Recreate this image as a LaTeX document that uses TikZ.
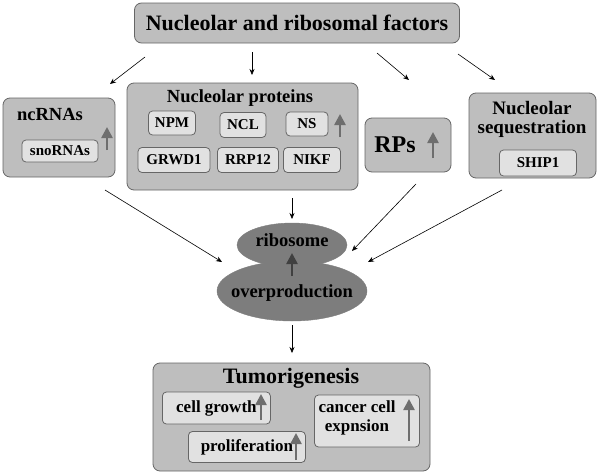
\documentclass[tikz,border=0pt]{standalone}
\usepackage{fontspec}
\setmainfont{Liberation Serif}
\usetikzlibrary{positioning,arrows.meta}
\definecolor{boxgray}{RGB}{190,190,190}
\definecolor{innergray}{RGB}{225,225,225}
\definecolor{ovalgray}{RGB}{125,125,125}
\definecolor{upgray}{RGB}{110,110,110}
\tikzset{
  outer/.style={draw=black!60,fill=boxgray,rounded corners=7pt,line width=0.8pt},
  inner/.style={draw=black!60,fill=innergray,rounded corners=4pt,line width=0.8pt,font=\bfseries\fontsize{15}{16}\selectfont,inner sep=0pt},
  lbl/.style={font=\bfseries\fontsize{18.5}{20}\selectfont,align=center},
  flow/.style={-{Stealth[length=6pt,width=5pt]},line width=0.6pt},
  up/.style={-{Triangle[length=11pt,width=11pt]},line width=2.5pt,draw=upgray}
}
\begin{document}
\begin{tikzpicture}[x=1pt,y=-1pt]
\useasboundingbox (0,0) rectangle (600,474);

%Top box
\node[outer,minimum width=325pt,minimum height=40pt,font=\bfseries\fontsize{22}{24}\selectfont] (factors) at (297,23) {Nucleolar and ribosomal factors};

%ncRNAs
\draw[outer] (3,98) rectangle (115,177);
\node[lbl] (ncrna) at (50,114) {ncRNAs};
\node[inner,minimum width=76pt,minimum height=22pt] (snorna) at (60,151) {snoRNAs};
\draw[up] (107,150) -- (107,127);

%Nucleolar proteins
\draw[outer] (127,83) rectangle (358,190);
\node[lbl] (nprot) at (240,98) {Nucleolar proteins};
\node[inner,minimum width=47pt,minimum height=24pt] (npm) at (172,123) {NPM};
\node[inner,minimum width=46pt,minimum height=25pt] (ncl) at (243,125) {NCL};
\node[inner,minimum width=42pt,minimum height=24pt] (ns) at (307,124) {NS};
\draw[up] (340,137) -- (340,114);
\node[inner,minimum width=72pt,minimum height=25pt] (grwd) at (174,160) {GRWD1};
\node[inner,minimum width=61pt,minimum height=25pt] (rrp) at (248,160) {RRP12};
\node[inner,minimum width=57pt,minimum height=25pt] (nikf) at (312,160) {NIKF};

%RPs
\draw[outer] (365,118) rectangle (451,172);
\node[font=\bfseries\fontsize{24}{26}\selectfont] (rps) at (395,145) {RPs};
\draw[up] (433,158) -- (433,132);

%Nucleolar sequestration
\draw[outer] (469,93) rectangle (596,178);
\node[lbl,font=\bfseries\fontsize{19}{20}\selectfont] (nseq) at (532,119) {Nucleolar\\[-1pt]sequestration};
\node[inner,minimum width=77pt,minimum height=26pt] (ship) at (538,163) {SHIP1};

%Ribosome overproduction
\draw[fill=ovalgray,draw=ovalgray] (292,245) ellipse (55pt and 22pt);
\draw[fill=ovalgray,draw=ovalgray] (292,291) ellipse (75pt and 30pt);
\node[lbl] (ribo) at (292,240) {ribosome};
\node[lbl] (overp) at (292,293) {overproduction};
\draw[-{Triangle[length=11pt,width=11pt]},line width=2.5pt,draw=black!75] (292,276) -- (292,253);

%Tumorigenesis
\draw[outer] (153,363) rectangle (430,471);
\node[lbl,font=\bfseries\fontsize{22}{24}\selectfont] (tumor) at (291,378) {Tumorigenesis};
\node[inner,minimum width=108pt,minimum height=32pt,anchor=west,inner xsep=4pt,font=\bfseries\fontsize{17}{18}\selectfont] (growth) at (162,408) {cell growth};
\draw[up] (261,420) -- (261,394);
\node[inner,minimum width=117pt,minimum height=31pt,anchor=west,inner xsep=5pt,font=\bfseries\fontsize{17}{18}\selectfont] (prolif) at (188,447) {proliferation};
\draw[up] (296,460) -- (296,433);
\node[inner,minimum width=105pt,minimum height=52pt] (cancer) at (367,421) {};
\node[lbl,font=\bfseries\fontsize{17}{19}\selectfont] (cancertxt) at (357,418) {cancer cell\\expnsion};
\draw[up] (409,441) -- (409,399);

%Connectors
\coordinate (t1) at (145,57); \coordinate (h1) at (110,84);
\coordinate (t2) at (252,52); \coordinate (h2) at (252,75);
\coordinate (t3) at (377,53); \coordinate (h3) at (409,80);
\coordinate (t4) at (458,54); \coordinate (h4) at (495,80);
\draw[flow] (t1) -- (h1);
\draw[flow] (t2) -- (h2);
\draw[flow] (t3) -- (h3);
\draw[flow] (t4) -- (h4);
\coordinate (m1) at (105,190); \coordinate (e1) at (222,262);
\coordinate (m2) at (292,198); \coordinate (e2) at (292,219);
\coordinate (m3) at (416,184); \coordinate (e3) at (352,251);
\coordinate (m4) at (502,190); \coordinate (e4) at (368,262);
\draw[flow] (m1) -- (e1);
\draw[flow] (m2) -- (e2);
\draw[flow] (m3) -- (e3);
\draw[flow] (m4) -- (e4);
\coordinate (b1) at (292,325); \coordinate (b2) at (292,353);
\draw[flow] (b1) -- (b2);
\end{tikzpicture}
\end{document}
